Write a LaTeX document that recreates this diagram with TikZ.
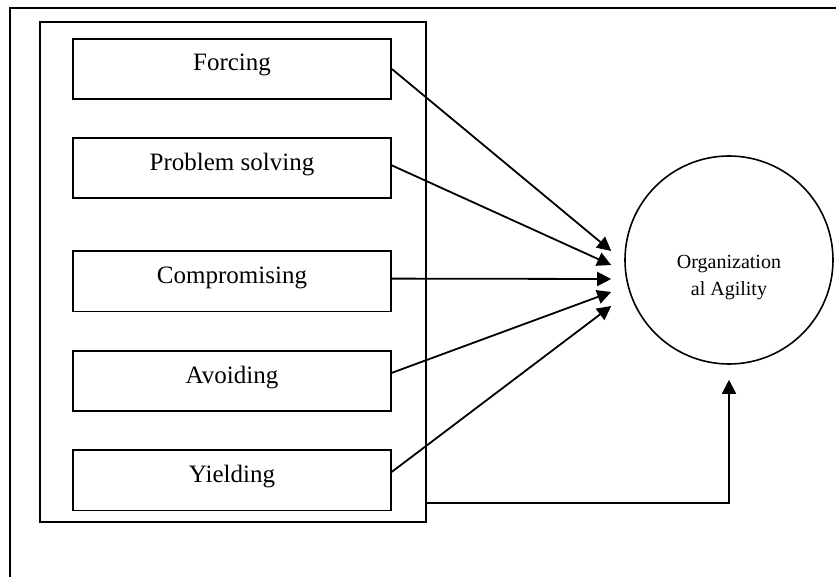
\documentclass[tikz,border=0pt]{standalone}
\usepackage{fontspec}
\setmainfont{Liberation Serif}
\usetikzlibrary{arrows.meta,positioning}

\begin{document}
\begin{tikzpicture}[x=0.5pt, y=-0.5pt,
                >={Triangle[length=7pt,width=7pt]}]
        \tikzset{
                basic/.style    = {draw, rectangle, line width=0.9pt},
                frame/.style    = {draw, line width=1.2pt},
                holder/.style   = {basic, minimum width=193pt, minimum height=250pt},
                stylebox/.style = {basic, minimum width=159pt, minimum height=30.2pt, inner sep=0pt,
                                font=\fontsize{12.5}{15}\selectfont, text height=9pt, text depth=7pt},
                agility/.style  = {draw, circle, line width=0.8pt, minimum size=104pt, inner sep=0pt},
                agilitytext/.style = {align=center, font=\fontsize{10}{13.5}\selectfont},
                arr/.style      = {->, line width=0.9pt}
        }
        \useasboundingbox (0,0) rectangle (836,577);
        % outer frame, right and bottom sides run off the page
        \draw[frame] (10,600) |- (860,8);

        % the box holding the five styles
        \node[holder] (styles) at (233,272) {};
        \node[stylebox] (force) at (232,69) {Forcing};
        \node[stylebox, below=18.5pt of force] (solve) {Problem solving};
        \node[stylebox, below=25.5pt of solve] (comp) {Compromising};
        \node[stylebox, below=18.8pt of comp] (avoid) {Avoiding};
        \node[stylebox, below=18.4pt of avoid] (yield) {Yielding};

        % the outcome
        \node[agility] (org) at (729,260) {};
        \node[agilitytext] (orgtext) at ([yshift=-9pt]org.center) {Organization\\al Agility};

        % arrow tips stop short of the circle
        \foreach \i/\dy in {1/-9,2/5,3/19,4/32,5/46}
        \coordinate (t\i) at ([shift={(-13,\dy)}]org.west);
        \coordinate (tb) at ([yshift=-7.5pt]org.south);

        \foreach \n/\a/\i in {force/0/1,solve/1/2,comp/1/3,avoid/3/4,yield/3/5}
        \draw[arr] (\n.\a) -- (t\i);

        \draw[arr] ([yshift=10pt]styles.south east) -| (tb);

\end{tikzpicture}
\end{document}
